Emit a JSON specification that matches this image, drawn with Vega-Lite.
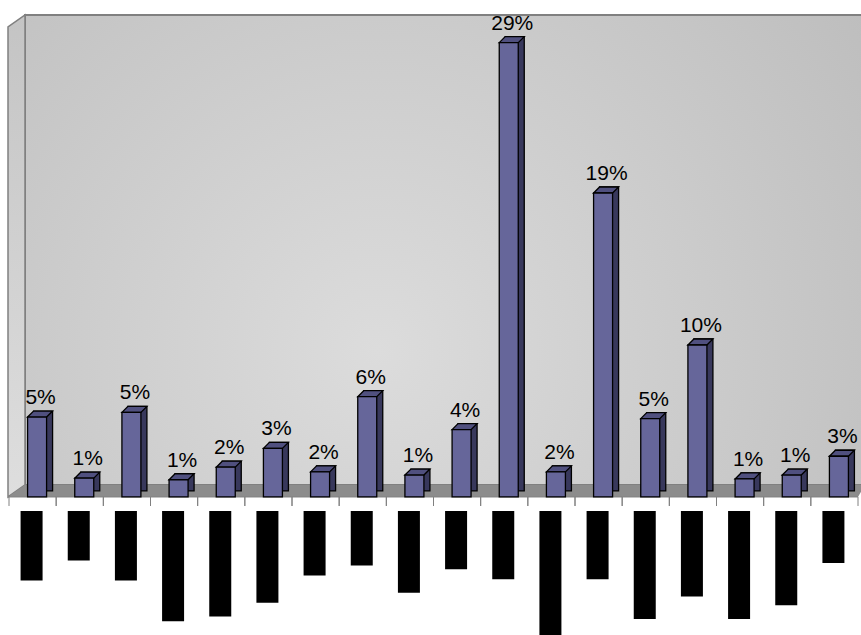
{
  "$schema": "https://vega.github.io/schema/vega-lite/v6.json",
  "width": 849,
  "height": 635,
  "autosize": "none",
  "padding": {"left": 9, "right": 3, "top": 0, "bottom": 0},
  "background": "white",
  "config": {"view": {"stroke": null}},
  "data": {
    "values": [
      {"cat": 1, "value": 0.051, "labelLen": 5.6},
      {"cat": 2, "value": 0.012, "labelLen": 4.0},
      {"cat": 3, "value": 0.054, "labelLen": 5.6},
      {"cat": 4, "value": 0.011, "labelLen": 8.9},
      {"cat": 5, "value": 0.019, "labelLen": 8.5},
      {"cat": 6, "value": 0.031, "labelLen": 7.4},
      {"cat": 7, "value": 0.016, "labelLen": 5.2},
      {"cat": 8, "value": 0.064, "labelLen": 4.4},
      {"cat": 9, "value": 0.014, "labelLen": 6.6},
      {"cat": 10, "value": 0.043, "labelLen": 4.7},
      {"cat": 11, "value": 0.29, "labelLen": 5.5},
      {"cat": 12, "value": 0.016, "labelLen": 10},
      {"cat": 13, "value": 0.194, "labelLen": 5.5},
      {"cat": 14, "value": 0.05, "labelLen": 8.7},
      {"cat": 15, "value": 0.097, "labelLen": 6.9},
      {"cat": 16, "value": 0.0115, "labelLen": 8.7},
      {"cat": 17, "value": 0.014, "labelLen": 7.6},
      {"cat": 18, "value": 0.026, "labelLen": 4.2}
    ]
  },
  "resolve": {"scale": {"x": "independent", "y": "independent"}},
  "layer": [
    {
      "data": {"values": [{}]},
      "layer": [
        {
          "mark": {
            "type": "rect",
            "xOffset": 16, "x2Offset": 6, "yOffset": -12, "y2Offset": -12,
            "fill": {
              "gradient": "radial",
              "x1": 0.42, "y1": 0.62, "r1": 0,
              "x2": 0.42, "y2": 0.62, "r2": 0.75,
              "stops": [
                {"offset": 0, "color": "#dcdcdc"},
                {"offset": 1, "color": "#bcbcbc"}
              ]
            },
            "stroke": "#808080", "strokeWidth": 2
          },
          "encoding": {
            "x": {"datum": 0, "type": "quantitative", "scale": {"domain": [0, 1]}, "axis": null},
            "x2": {"datum": 1},
            "y": {"datum": 0, "type": "quantitative", "scale": {"domain": [-0.0881, 0.3172], "zero": false, "nice": false}, "axis": null},
            "y2": {"datum": 0.30}
          }
        },
        {
          "mark": {
            "type": "point", "shape": "M -1 0 L -1 -470 L 16 -482 L 16 -12 Z", "size": 4,
            "filled": true, "opacity": 1,
            "fill": {
              "gradient": "linear", "x1": 0, "y1": 0, "x2": 0, "y2": 1,
              "stops": [{"offset": 0, "color": "#c4c4c4"}, {"offset": 1, "color": "#dedede"}]
            },
            "stroke": "#808080", "strokeWidth": 1.5
          },
          "encoding": {
            "x": {"datum": 0, "type": "quantitative"},
            "y": {"datum": 0, "type": "quantitative"}
          }
        },
        {
          "mark": {
            "type": "point", "shape": "M -1 0 L 16 -12 L 856 -12 L 849 0 Z", "size": 4,
            "filled": true, "opacity": 1, "fill": "#8c8c8c", "strokeWidth": 0
          },
          "encoding": {
            "x": {"datum": 0, "type": "quantitative"},
            "y": {"datum": 0, "type": "quantitative"}
          }
        },
        {
          "mark": {"type": "rule", "color": "#808080", "strokeWidth": 1, "xOffset": -1},
          "encoding": {
            "x": {"datum": 0, "type": "quantitative"},
            "x2": {"datum": 1},
            "y": {"datum": 0, "type": "quantitative"}
          }
        }
      ]
    },
    {
      "layer": [
        {
          "mark": {"type": "rule", "color": "#808080", "strokeWidth": 1, "y2Offset": 9},
          "encoding": {
            "x": {"field": "cat", "type": "ordinal", "bandPosition": 0, "scale": {"paddingInner": 0, "paddingOuter": 0}, "axis": null},
            "y": {"datum": 0, "type": "quantitative", "scale": {"domain": [-0.0881, 0.3172], "zero": false, "nice": false}, "axis": null},
            "y2": {"datum": 0}
          }
        },
        {
          "mark": {"type": "rule", "color": "#808080", "strokeWidth": 1, "y2Offset": 9},
          "encoding": {
            "x": {"field": "cat", "type": "ordinal", "bandPosition": 1},
            "y": {"datum": 0, "type": "quantitative"},
            "y2": {"datum": 0}
          }
        },
        {
          "mark": {
            "type": "bar", "width": 19, "xOffset": 10.5, "yOffset": -6, "y2Offset": -6,
            "fill": "#38385c", "stroke": "#000000", "strokeWidth": 1.3
          },
          "encoding": {
            "x": {"field": "cat", "type": "ordinal"},
            "y": {"field": "value", "type": "quantitative"},
            "y2": {"datum": 0}
          }
        },
        {
          "mark": {
            "type": "point", "shape": "M -5 0 L 1 -6 L 20 -6 L 14 0 Z", "size": 4,
            "filled": true, "opacity": 1, "fill": "#50507f", "stroke": "#000000", "strokeWidth": 1.3
          },
          "encoding": {
            "x": {"field": "cat", "type": "ordinal"},
            "y": {"field": "value", "type": "quantitative"}
          }
        },
        {
          "mark": {
            "type": "bar", "width": 19, "xOffset": 4.5,
            "fill": "#66669a", "stroke": "#000000", "strokeWidth": 1.3
          },
          "encoding": {
            "x": {"field": "cat", "type": "ordinal"},
            "y": {"field": "value", "type": "quantitative"},
            "y2": {"datum": 0}
          }
        },
        {
          "mark": {
            "type": "text", "dx": 8, "dy": -9, "baseline": "bottom", "align": "center",
            "font": "Liberation Sans", "fontSize": 21, "color": "#000000"
          },
          "encoding": {
            "x": {"field": "cat", "type": "ordinal"},
            "y": {"field": "value", "type": "quantitative"},
            "text": {"field": "value", "type": "quantitative", "format": ".0%"}
          }
        }
      ]
    },
    {
      "mark": {"type": "bar", "width": 22, "xOffset": -1, "fill": "#000000"},
      "encoding": {
        "x": {"field": "cat", "type": "ordinal", "scale": {"paddingInner": 0, "paddingOuter": 0}, "axis": null},
        "y": {"field": "labelLen", "type": "quantitative", "scale": {"domain": [0, 10], "range": [511, 635], "nice": false}, "axis": null}
      }
    }
  ]
}
